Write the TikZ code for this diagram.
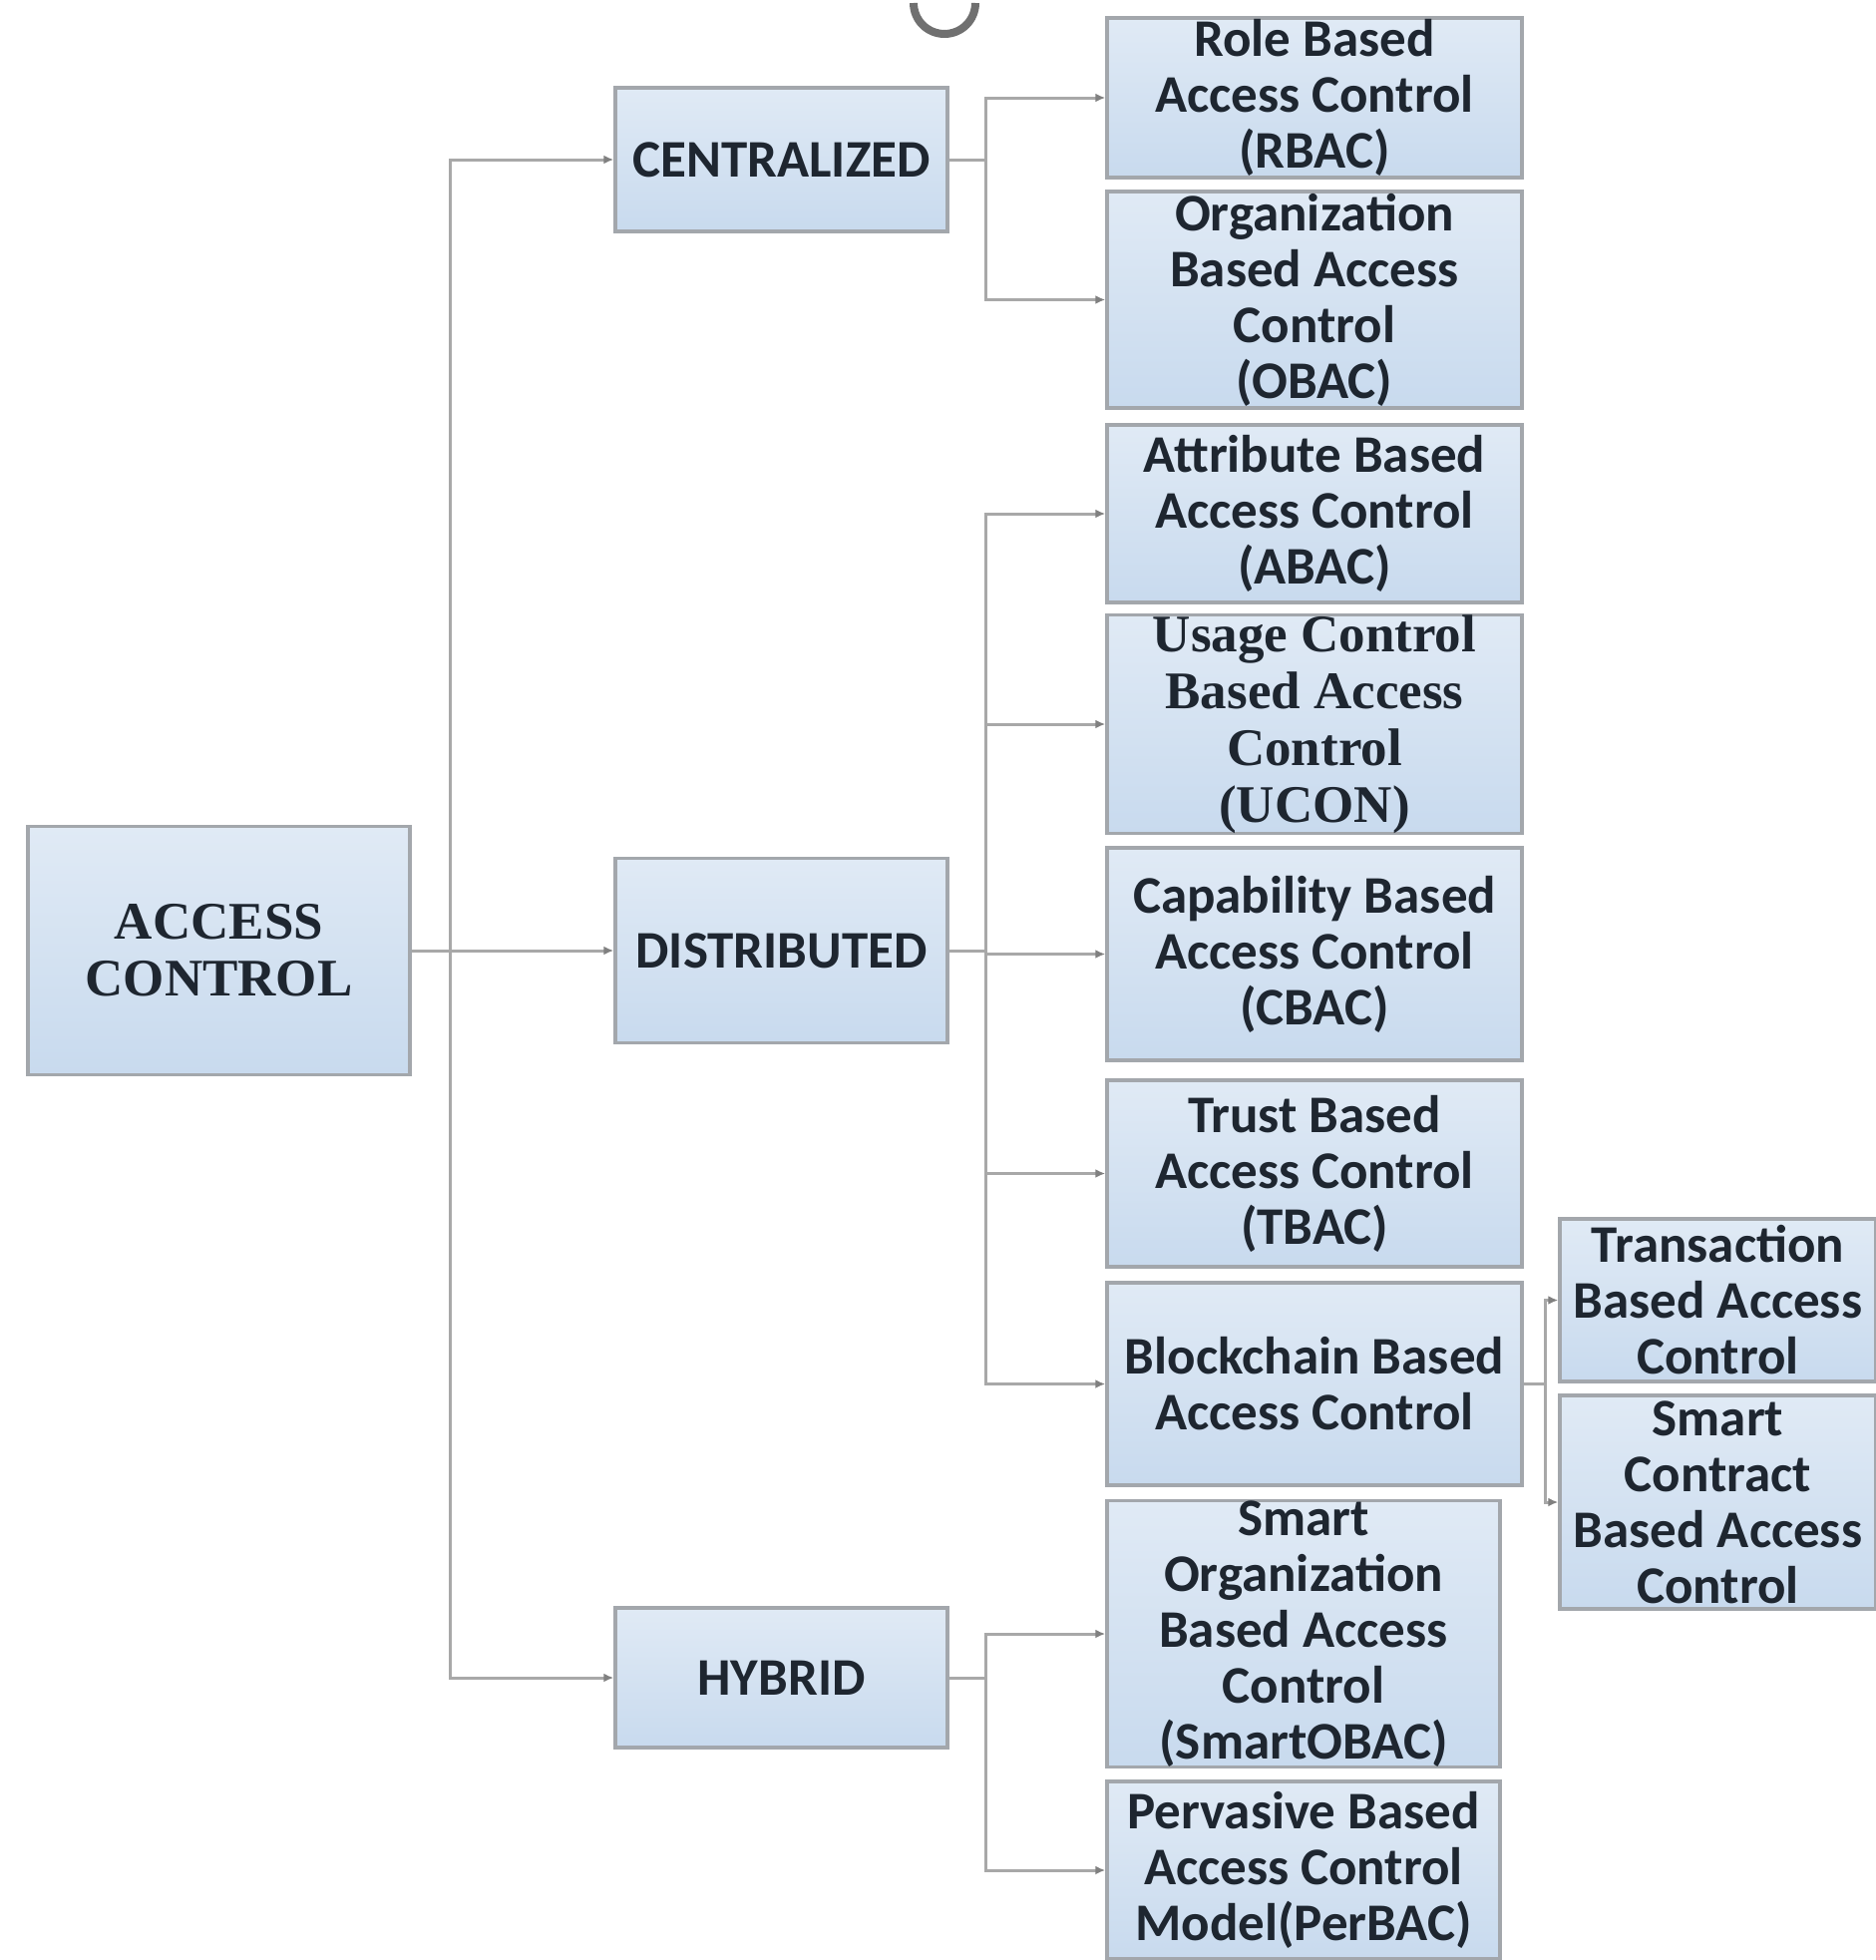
\documentclass[tikz,border=0pt]{standalone}
\usepackage{fontspec}
\setmainfont{Carlito}
\newfontfamily\serifbf{Liberation Serif}
\usetikzlibrary{arrows.meta,calc}

\definecolor{boxtop}{HTML}{E0EAF5}
\definecolor{boxbot}{HTML}{C8DAEE}
\definecolor{boxline}{HTML}{A3A7AC}
\definecolor{wire}{HTML}{A8A8A8}
\definecolor{tipcol}{HTML}{808080}
\definecolor{ink}{HTML}{1E2630}
\definecolor{ring}{HTML}{707070}

\begin{document}
\begin{tikzpicture}[x=1pt,y=-1pt,
  box/.style={rectangle, draw=boxline, line width=3.5pt,
    top color=boxtop, bottom color=boxbot, inner sep=0pt,
    align=center, text=ink, font=\fontsize{53}{56}\selectfont\bfseries},
  serifbox/.style={box, font=\fontsize{53}{57}\selectfont\serifbf\bfseries},
  conn/.style={draw=wire, line width=3pt,
    -{Latex[length=10pt,width=9pt,color=tipcol]}},
]
\useasboundingbox (0,0) rectangle (1881,1965);

% partial ring at the top edge
\draw[line width=8pt, ring] (978,3) arc[start angle=0, end angle=180, radius=31];

% root and first level
\node[serifbox, minimum width=383pt, minimum height=249pt] (ac) at (219.5,953) {ACCESS\\CONTROL};
\node[box, minimum width=333pt, minimum height=144pt] (cen) at (783.5,160) {CENTRALIZED};
\node[box, minimum width=333pt, minimum height=185pt] (dis) at (783.5,953) {DISTRIBUTED};
\node[box, minimum width=333pt, minimum height=140pt] (hyb) at (783.5,1682) {HYBRID};

% centralized models
\node[box, minimum width=416pt, minimum height=160pt] (rbac) at (1318,98) {Role Based\\Access Control\\(RBAC)};
\node[box, minimum width=416pt, minimum height=217pt] (obac) at (1318,300.5) {Organization\\Based Access\\Control\\(OBAC)};

% distributed models
\node[box, minimum width=416pt, minimum height=178pt] (abac) at (1318,515) {Attribute Based\\Access Control\\(ABAC)};
\node[serifbox, minimum width=416pt, minimum height=214pt] (ucon) at (1318,726) {Usage Control\\Based Access\\Control\\(UCON)};
\node[box, minimum width=416pt, minimum height=213pt] (cbac) at (1318,956.5) {Capability Based\\Access Control\\(CBAC)};
\node[box, minimum width=416pt, minimum height=187pt] (tbac) at (1318,1176.5) {Trust Based\\Access Control\\(TBAC)};
\node[box, minimum width=416pt, minimum height=203pt] (bbac) at (1318,1387.5) {Blockchain Based\\Access Control};

% blockchain variants
\node[box, minimum width=317pt, minimum height=163pt] (txn) at (1722.5,1303.5) {Transaction\\Based Access\\Control};
\node[box, minimum width=317pt, minimum height=214pt] (sc) at (1722.5,1506) {Smart\\Contract\\Based Access\\Control};

% hybrid models
\node[box, minimum width=394pt, minimum height=266pt] (sobac) at (1307,1638) {Smart\\Organization\\Based Access\\Control\\(SmartOBAC)};
\node[box, minimum width=394pt, minimum height=178pt] (perbac) at (1307,1875) {Pervasive Based\\Access Control\\Model(PerBAC)};

% bus lines
\coordinate (b0) at (451,0);
\coordinate (b1) at (988,0);
\coordinate (b2) at (1549,0);

\draw[conn] (ac.east) -- (ac.east -| b0) |- (cen.west);
\draw[conn] (ac.east) -- (dis.west);
\draw[conn] (ac.east) -- (ac.east -| b0) |- (hyb.west);

\draw[conn] (cen.east) -- (cen.east -| b1) |- (rbac.west);
\draw[conn] (cen.east) -- (cen.east -| b1) |- (obac.west);

\draw[conn] (dis.east) -- (dis.east -| b1) |- (abac.west);
\draw[conn] (dis.east) -- (dis.east -| b1) |- (ucon.west);
\draw[conn] (dis.east) -- (dis.east -| b1) |- (cbac.west);
\draw[conn] (dis.east) -- (dis.east -| b1) |- (tbac.west);
\draw[conn] (dis.east) -- (dis.east -| b1) |- (bbac.west);

\draw[conn] (bbac.east) -- (bbac.east -| b2) |- (txn.west);
\draw[conn] (bbac.east) -- (bbac.east -| b2) |- (sc.west);

\draw[conn] (hyb.east) -- (hyb.east -| b1) |- (sobac.west);
\draw[conn] (hyb.east) -- (hyb.east -| b1) |- (perbac.west);
\end{tikzpicture}
\end{document}
